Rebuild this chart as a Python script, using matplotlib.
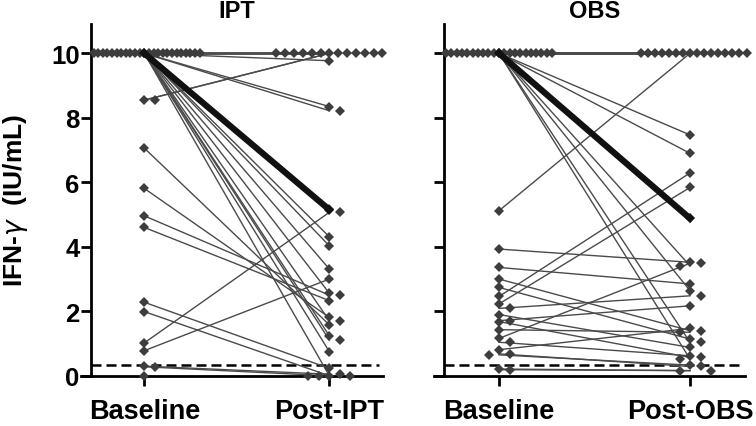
import numpy as np
import matplotlib.pyplot as plt
import matplotlib.transforms as mtransforms

plt.rcParams['font.family'] = ['Liberation Sans', 'DejaVu Sans']
plt.rcParams['mathtext.fontset'] = 'dejavusans'

# IFN-gamma (IU/mL), one entry per subject, baseline paired with post
ipt_base = [10, 10, 10, 10, 10, 10, 10, 10, 10, 10, 10,
            8.55, 8.55, 7.06, 5.81, 4.96, 4.60, 2.28, 1.99, 1.02, 0.78, 0.28, 0.30, 0.0,
            10, 10, 10, 10, 10, 10, 10, 10, 10, 10, 10, 10, 10]
ipt_post = [10, 10, 10, 10, 10, 10, 10, 10, 10, 10, 10,
            10, 10, 1.58, 1.81, 2.50, 2.33, 0.23, 0.0, 5.07, 3.00, 0.0, 0.05, 0.0,
            9.77, 8.35, 8.22, 5.17, 4.31, 4.03, 3.31, 2.56, 1.71, 1.24, 1.11, 0.75, 0.0]

obs_base = [10, 10, 10, 10, 10, 10, 10, 10, 10, 10, 10, 10, 10, 10, 10,
            10, 10, 10, 10, 10, 10,
            5.12, 2.46, 2.23, 3.93, 3.36, 3.00, 2.74, 2.09, 1.90, 1.71, 1.68, 1.43,
            1.16, 1.04, 0.81, 0.68, 0.65, 0.21, 0.19]
obs_post = [10, 10, 10, 10, 10, 10, 10, 10, 10, 10, 10, 10, 10, 10, 10,
            7.47, 6.90, 3.41, 2.64, 1.04, 0.52,
            10, 6.29, 5.84, 3.52, 2.85, 1.40, 1.14, 2.48, 0.88, 2.17, 0.57, 1.35,
            3.49, 0.62, 1.47, 0.29, 0.33, 0.16, 0.16]

ipt_median = [10, 5.15]
obs_median = [10, 4.88]
cutoff = 0.35

panels = ['IPT', 'OBS']
xlabels = [['Baseline', 'Post-IPT'], ['Baseline', 'Post-OBS']]


def swarm(vals, sx, sy, max_step=10.5, half_width=53, mind=6.5):
    # spread markers sideways (pixel units), tied values squeezed into a fixed width
    vals = np.asarray(vals, dtype=float)
    order = np.argsort(-vals, kind='stable')
    placed = []
    off = np.zeros(len(vals))
    for i in order:
        n_same = np.sum(vals == vals[i])
        step = max_step if n_same < 2 else min(max_step, 2 * half_width / (n_same - 1))
        y = vals[i] * sy
        k = 0
        done = False
        while not done:
            cands = [0.0] if k == 0 else [k * step, -k * step]
            for c in cands:
                if all(abs(c - px) >= step * 0.99 or abs(y - py) >= mind for px, py in placed):
                    placed.append((c, y))
                    off[i] = c / sx
                    done = True
                    break
            k += 1
    return off


fig = plt.figure(figsize=(7.56, 4.27), dpi=100)
ax1 = fig.add_axes([81.4 / 756, 50.2 / 427, 301.6 / 756, 351.5 / 427])
ax2 = fig.add_axes([434.1 / 756, 50.2 / 427, 311.3 / 756, 351.5 / 427])

data = [(ax1, ipt_base, ipt_post, ipt_median), (ax2, obs_base, obs_post, obs_median)]
spine_x = -0.29
line_col = '#4a4a4a'
mk_col = '#3d3d3d'

for k, (ax, base, post, med) in enumerate(data):
    ax.set_xlim(-0.34, 1.29)
    ax.set_ylim(0, 10.9)
    p0, p1 = ax.transData.transform([[0, 0], [1, 1]])
    sx, sy = p1[0] - p0[0], p1[1] - p0[1]

    ax.plot([spine_x, 1.27], [cutoff, cutoff], color='black', lw=1.8,
            ls=(0, (4, 2)), zorder=1, clip_on=False)

    for b, p in zip(base, post):
        ax.plot([0, 1], [b, p], color=line_col, lw=1.0, zorder=2)

    ob = swarm(base, sx, sy)
    op = swarm(post, sx, sy)
    ax.plot(0 + ob, base, 'D', color=mk_col, ms=5.2, mew=0, zorder=3, clip_on=False)
    ax.plot(1 + op, post, 'D', color=mk_col, ms=5.2, mew=0, zorder=3, clip_on=False)

    ax.plot([0, 1], med, color='#111111', lw=4.5, marker='D', ms=5.5, mew=0, zorder=4)

    for s in ['top', 'right']:
        ax.spines[s].set_visible(False)
    ax.spines['left'].set_position(('data', spine_x))
    ax.spines['left'].set_linewidth(2)
    ax.spines['bottom'].set_linewidth(2)

    ax.set_yticks([0, 2, 4, 6, 8, 10])
    ax.set_xticks([0, 1])
    ax.set_xticklabels(xlabels[k], fontsize=19.5, fontweight='bold')
    ax.tick_params(axis='both', direction='out', length=7, width=2)
    ax.tick_params(axis='x', pad=9)
    ax.tick_params(axis='y', pad=1, labelsize=18.5)
    if k == 0:
        for t in ax.get_yticklabels():
            t.set_fontweight('bold')
    else:
        ax.set_yticklabels([])

    trans = mtransforms.blended_transform_factory(ax.transData, fig.transFigure)
    ax.text(0.5, 1 - 11 / 427, panels[k], transform=trans,
            fontsize=17, fontweight='bold', ha='center', va='center')

fig.text(0.021, 1 - 200 / 427, r'IFN-$\gamma$  (IU/mL)', rotation=90, fontsize=19,
         fontweight='bold', ha='center', va='center')

plt.savefig('out.png', dpi=100)
